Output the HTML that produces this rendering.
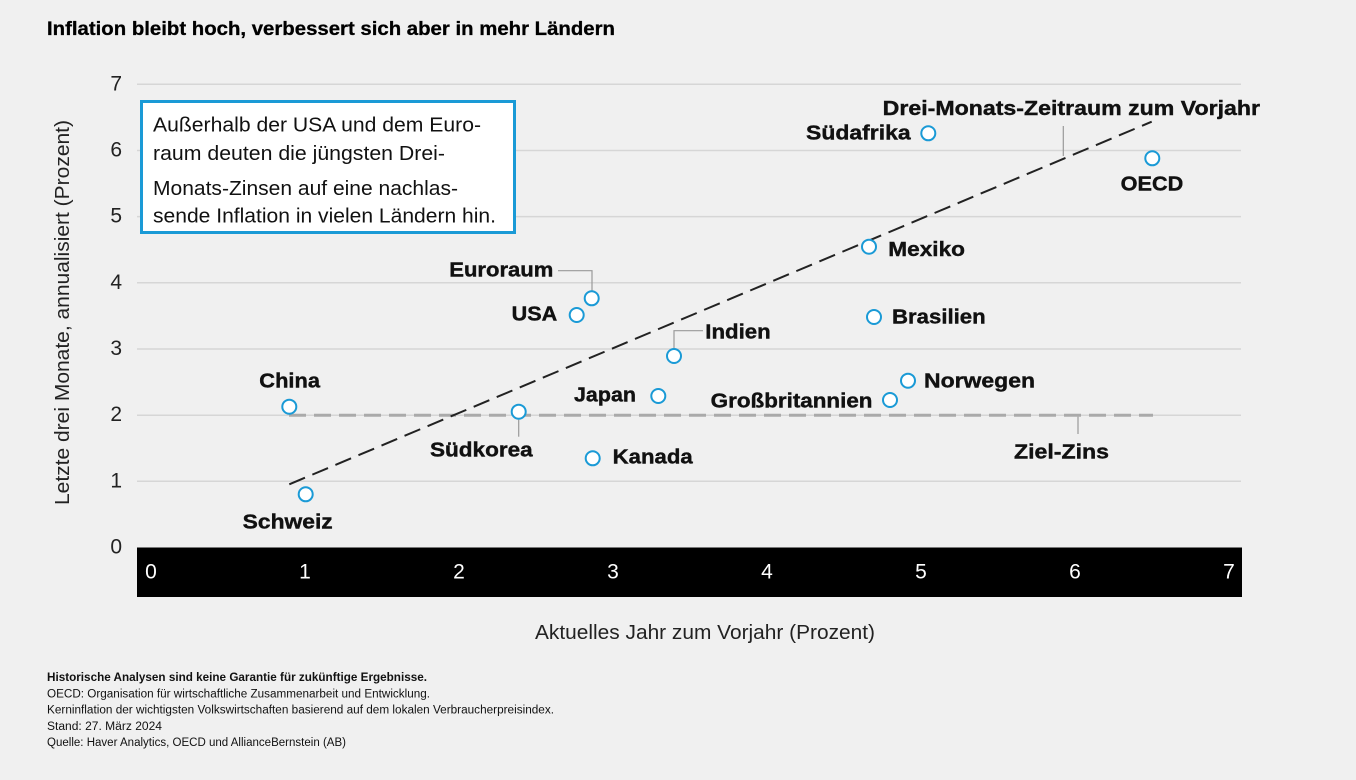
<!DOCTYPE html>
<html><head><meta charset="utf-8"><style>
html,body{margin:0;padding:0;background:#f0f0f0;}
svg{display:block;}
text{font-family:"Liberation Sans",sans-serif;}
</style></head><body>
<svg width="1356" height="780" viewBox="0 0 1356 780" xmlns="http://www.w3.org/2000/svg">
<rect width="1356" height="780" fill="#f0f0f0"/>
<text x="47" y="35" font-size="19" font-weight="bold" fill="#000" stroke="#000" stroke-width="0.3" textLength="568" lengthAdjust="spacingAndGlyphs">Inflation bleibt hoch, verbessert sich aber in mehr Ländern</text>

<!-- gridlines -->
<g stroke="#d6d6d6" stroke-width="1.5">
<line x1="137" y1="84.3" x2="1241" y2="84.3"/>
<line x1="137" y1="150.5" x2="1241" y2="150.5"/>
<line x1="137" y1="216.6" x2="1241" y2="216.6"/>
<line x1="137" y1="282.8" x2="1241" y2="282.8"/>
<line x1="137" y1="349" x2="1241" y2="349"/>
<line x1="137" y1="415.2" x2="1241" y2="415.2"/>
<line x1="137" y1="481.3" x2="1241" y2="481.3"/>
</g>

<!-- y tick labels -->
<g font-size="21" fill="#222" text-anchor="end">
<text x="122" y="90.5">7</text>
<text x="122" y="156.5">6</text>
<text x="122" y="222.5">5</text>
<text x="122" y="289">4</text>
<text x="122" y="355">3</text>
<text x="122" y="421">2</text>
<text x="122" y="487.5">1</text>
<text x="122" y="553.5">0</text>
</g>

<!-- x axis band -->
<rect x="137" y="547.5" width="1105" height="49.5" fill="#000"/>
<g font-size="21" fill="#fff" text-anchor="middle">
<text x="151" y="578.5">0</text>
<text x="305" y="578.5">1</text>
<text x="459" y="578.5">2</text>
<text x="613" y="578.5">3</text>
<text x="767" y="578.5">4</text>
<text x="921" y="578.5">5</text>
<text x="1075" y="578.5">6</text>
<text x="1229" y="578.5">7</text>
</g>

<text x="705" y="639" font-size="20" fill="#222" text-anchor="middle" textLength="340" lengthAdjust="spacingAndGlyphs">Aktuelles Jahr zum Vorjahr (Prozent)</text>
<text transform="translate(69,312.5) rotate(-90)" font-size="20" fill="#222" text-anchor="middle" textLength="385" lengthAdjust="spacingAndGlyphs">Letzte drei Monate, annualisiert (Prozent)</text>

<!-- annotation box -->
<rect x="141.5" y="101.5" width="373" height="131" fill="#fff" stroke="#1a9ad6" stroke-width="3"/>
<g font-size="20" fill="#111">
<text x="153" y="131.7" textLength="328" lengthAdjust="spacingAndGlyphs">Außerhalb der USA und dem Euro-</text>
<text x="153" y="160" textLength="292" lengthAdjust="spacingAndGlyphs">raum deuten die jüngsten Drei-</text>
<text x="153" y="195" textLength="305" lengthAdjust="spacingAndGlyphs">Monats-Zinsen auf eine nachlas-</text>
<text x="153" y="222.7" textLength="343" lengthAdjust="spacingAndGlyphs">sende Inflation in vielen Ländern hin.</text>
</g>

<!-- target line -->
<line x1="289" y1="415.2" x2="1153" y2="415.2" stroke="#aaa" stroke-width="3" stroke-dasharray="17 8"/>
<!-- trend line -->
<line x1="289.3" y1="484.3" x2="1151.7" y2="121.7" stroke="#222" stroke-width="2" stroke-dasharray="17 8"/>

<!-- leader lines -->
<g stroke="#999" stroke-width="1.2" fill="none">
<polyline points="558,270.7 592,270.7 592,290.5"/>
<polyline points="674,348 674,330.7 703,330.7"/>
<line x1="518.7" y1="419.7" x2="518.7" y2="436.7"/>
<line x1="1063.3" y1="126" x2="1063.3" y2="156"/>
<line x1="1078" y1="416.7" x2="1078" y2="434"/>
</g>

<!-- markers -->
<g fill="#fff" stroke="#1a9ad6" stroke-width="2">
<circle cx="289.3" cy="406.7" r="7"/>
<circle cx="305.7" cy="494.3" r="7"/>
<circle cx="518.7" cy="411.7" r="7"/>
<circle cx="576.7" cy="315" r="7"/>
<circle cx="591.7" cy="298.3" r="7"/>
<circle cx="592.7" cy="458.3" r="7"/>
<circle cx="658.3" cy="396" r="7"/>
<circle cx="674" cy="356" r="7"/>
<circle cx="869" cy="246.7" r="7"/>
<circle cx="874" cy="317" r="7"/>
<circle cx="890" cy="400" r="7"/>
<circle cx="908" cy="380.7" r="7"/>
<circle cx="928.3" cy="133.3" r="7"/>
<circle cx="1152.3" cy="158.3" r="7"/>
</g>

<!-- labels -->
<g font-size="20" font-weight="bold" fill="#111" stroke="#111" stroke-width="0.4">
<text x="259.3" y="387.3" textLength="60.7" lengthAdjust="spacingAndGlyphs">China</text>
<text x="242.7" y="528.3" textLength="90" lengthAdjust="spacingAndGlyphs">Schweiz</text>
<text x="430" y="456.7" textLength="102.7" lengthAdjust="spacingAndGlyphs">Südkorea</text>
<text x="449.3" y="276.7" textLength="104" lengthAdjust="spacingAndGlyphs">Euroraum</text>
<text x="511.7" y="320.7" textLength="45.6" lengthAdjust="spacingAndGlyphs">USA</text>
<text x="705.3" y="338.3" textLength="65.4" lengthAdjust="spacingAndGlyphs">Indien</text>
<text x="574" y="401.7" textLength="62" lengthAdjust="spacingAndGlyphs">Japan</text>
<text x="612.7" y="463.3" textLength="80" lengthAdjust="spacingAndGlyphs">Kanada</text>
<text x="888.3" y="256" textLength="76.7" lengthAdjust="spacingAndGlyphs">Mexiko</text>
<text x="892" y="323.3" textLength="93.7" lengthAdjust="spacingAndGlyphs">Brasilien</text>
<text x="924" y="387.3" textLength="111" lengthAdjust="spacingAndGlyphs">Norwegen</text>
<text x="710.7" y="407.3" textLength="161.8" lengthAdjust="spacingAndGlyphs">Großbritannien</text>
<text x="1014" y="458.3" textLength="95" lengthAdjust="spacingAndGlyphs">Ziel-Zins</text>
<text x="806" y="139.3" textLength="104.7" lengthAdjust="spacingAndGlyphs">Südafrika</text>
<text x="1120.7" y="190.7" textLength="62.6" lengthAdjust="spacingAndGlyphs">OECD</text>
<text x="882.7" y="115" textLength="377.3" lengthAdjust="spacingAndGlyphs">Drei-Monats-Zeitraum zum Vorjahr</text>
</g>

<!-- footnotes -->
<g font-size="11.5" fill="#111">
<text x="47" y="681" font-weight="bold" textLength="380" lengthAdjust="spacingAndGlyphs">Historische Analysen sind keine Garantie für zukünftige Ergebnisse.</text>
<text x="47" y="697.3" textLength="383" lengthAdjust="spacingAndGlyphs">OECD: Organisation für wirtschaftliche Zusammenarbeit und Entwicklung.</text>
<text x="47" y="713.6" textLength="507" lengthAdjust="spacingAndGlyphs">Kerninflation der wichtigsten Volkswirtschaften basierend auf dem lokalen Verbraucherpreisindex.</text>
<text x="47" y="729.9" textLength="115" lengthAdjust="spacingAndGlyphs">Stand: 27. März 2024</text>
<text x="47" y="746.2" textLength="299" lengthAdjust="spacingAndGlyphs">Quelle: Haver Analytics, OECD und AllianceBernstein (AB)</text>
</g>
</svg>
</body></html>
